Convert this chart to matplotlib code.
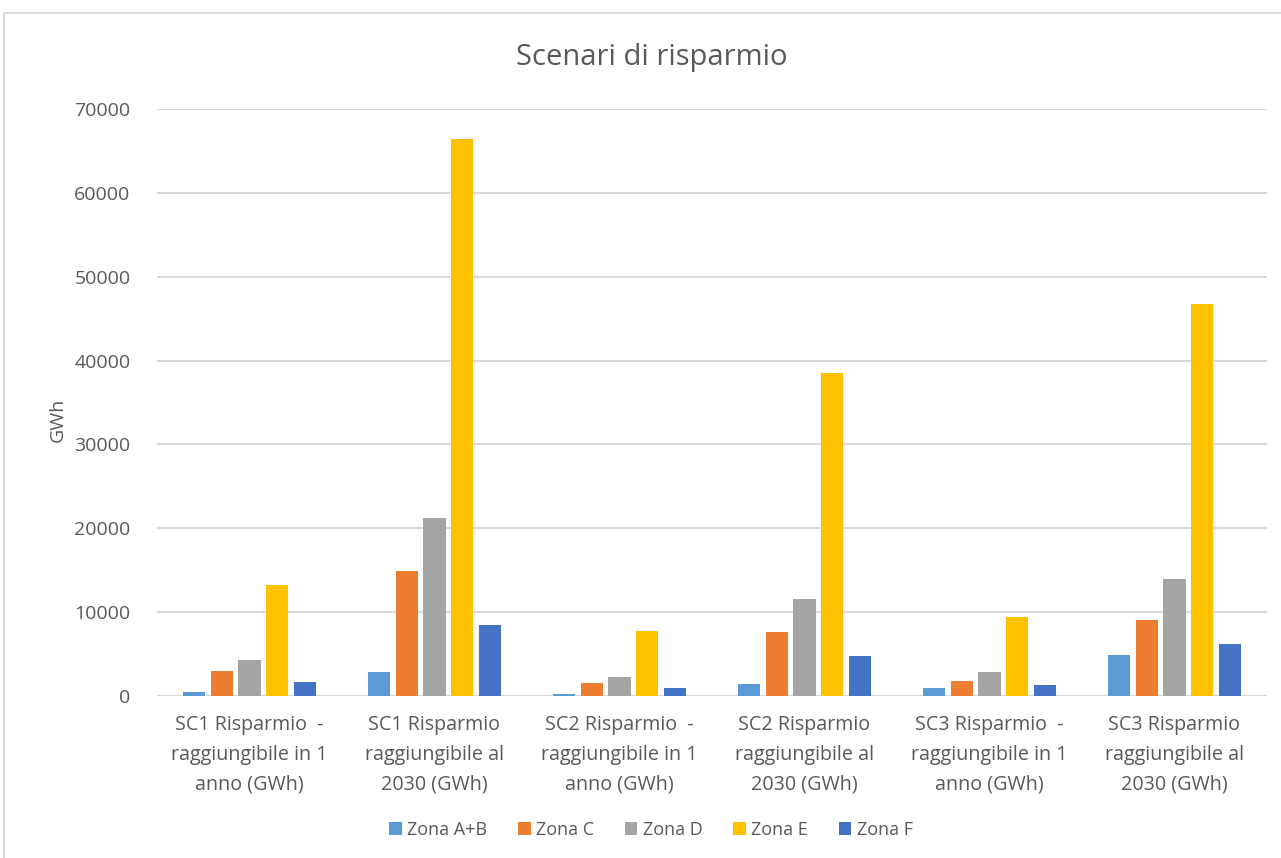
import matplotlib
matplotlib.use('Agg')
import matplotlib.pyplot as plt
import numpy as np
from matplotlib.patches import Rectangle

plt.rcParams['font.family'] = ['Open Sans', 'DejaVu Sans']

# Dati
categorie = [
    "SC1 Risparmio  -\nraggiungibile in 1\nanno (GWh)",
    "SC1 Risparmio\nraggiungibile al\n2030 (GWh)",
    "SC2 Risparmio  -\nraggiungibile in 1\nanno (GWh)",
    "SC2 Risparmio\nraggiungibile al\n2030 (GWh)",
    "SC3 Risparmio  -\nraggiungibile in 1\nanno (GWh)",
    "SC3 Risparmio\nraggiungibile al\n2030 (GWh)",
]
zone = ["Zona A+B", "Zona C", "Zona D", "Zona E", "Zona F"]
zona_ab = [510, 2820, 240, 1390, 950, 4850]
zona_c = [2980, 14900, 1510, 7630, 1830, 9060]
zona_d = [4290, 21200, 2230, 11520, 2820, 13980]
zona_e = [13270, 66400, 7750, 38500, 9380, 46700]
zona_f = [1670, 8500, 950, 4730, 1270, 6160]
serie = [zona_ab, zona_c, zona_d, zona_e, zona_f]
colori = ['#5B9BD5', '#ED7D31', '#A5A5A5', '#FFC000', '#4472C4']

testo = '#595959'

fig = plt.figure(figsize=(12.81, 8.58), dpi=100)
ax = fig.add_axes([157 / 1281, 1 - 696 / 858, (1267 - 157) / 1281, (696 - 109) / 858])

x = np.arange(len(categorie))
passo = 0.151
larghezza = 0.119
for i, (valori, nome, col) in enumerate(zip(serie, zone, colori)):
    ax.bar(x + (i - 2) * passo, valori, width=larghezza, color=col, label=nome,
           zorder=3)

ax.set_xlim(-0.5, len(categorie) - 0.5)
ax.set_ylim(0, 70000)
ax.set_yticks(np.arange(0, 70001, 10000))
ax.grid(axis='y', color='#D9D9D9', linewidth=1.5, zorder=0)
for s in ax.spines.values():
    s.set_visible(False)
ax.tick_params(axis='both', length=0, colors=testo)
ax.tick_params(axis='y', pad=19, labelsize=14)
ax.tick_params(axis='x', pad=14)
ax.set_xticks(x)
ax.set_xticklabels(categorie, linespacing=1.62, fontsize=14.2)
ax.axhline(0, color='#D9D9D9', linewidth=1.5, zorder=2)

fig.text(58 / 1281, 1 - 420 / 858, 'GWh', rotation=90, ha='center', va='center',
         color=testo, fontsize=14)
fig.text(652 / 1281, 1 - 57 / 858, 'Scenari di risparmio', ha='center', va='center',
         fontsize=21, color=testo)

leg = fig.legend(loc='center', bbox_to_anchor=(651 / 1281, 1 - 830 / 858), ncol=5,
                 frameon=False, fontsize=13, handlelength=0.7, handleheight=0.7,
                 handletextpad=0.3, columnspacing=1.7)
for t in leg.get_texts():
    t.set_color(testo)

fig.patches.append(Rectangle((4 / 1281, -0.01), 1.1, 1 - 13 / 858 + 0.01,
                             transform=fig.transFigure, fill=False,
                             edgecolor='#D9D9D9', linewidth=1.5))

plt.savefig('out.png', dpi=100)
plt.close()
